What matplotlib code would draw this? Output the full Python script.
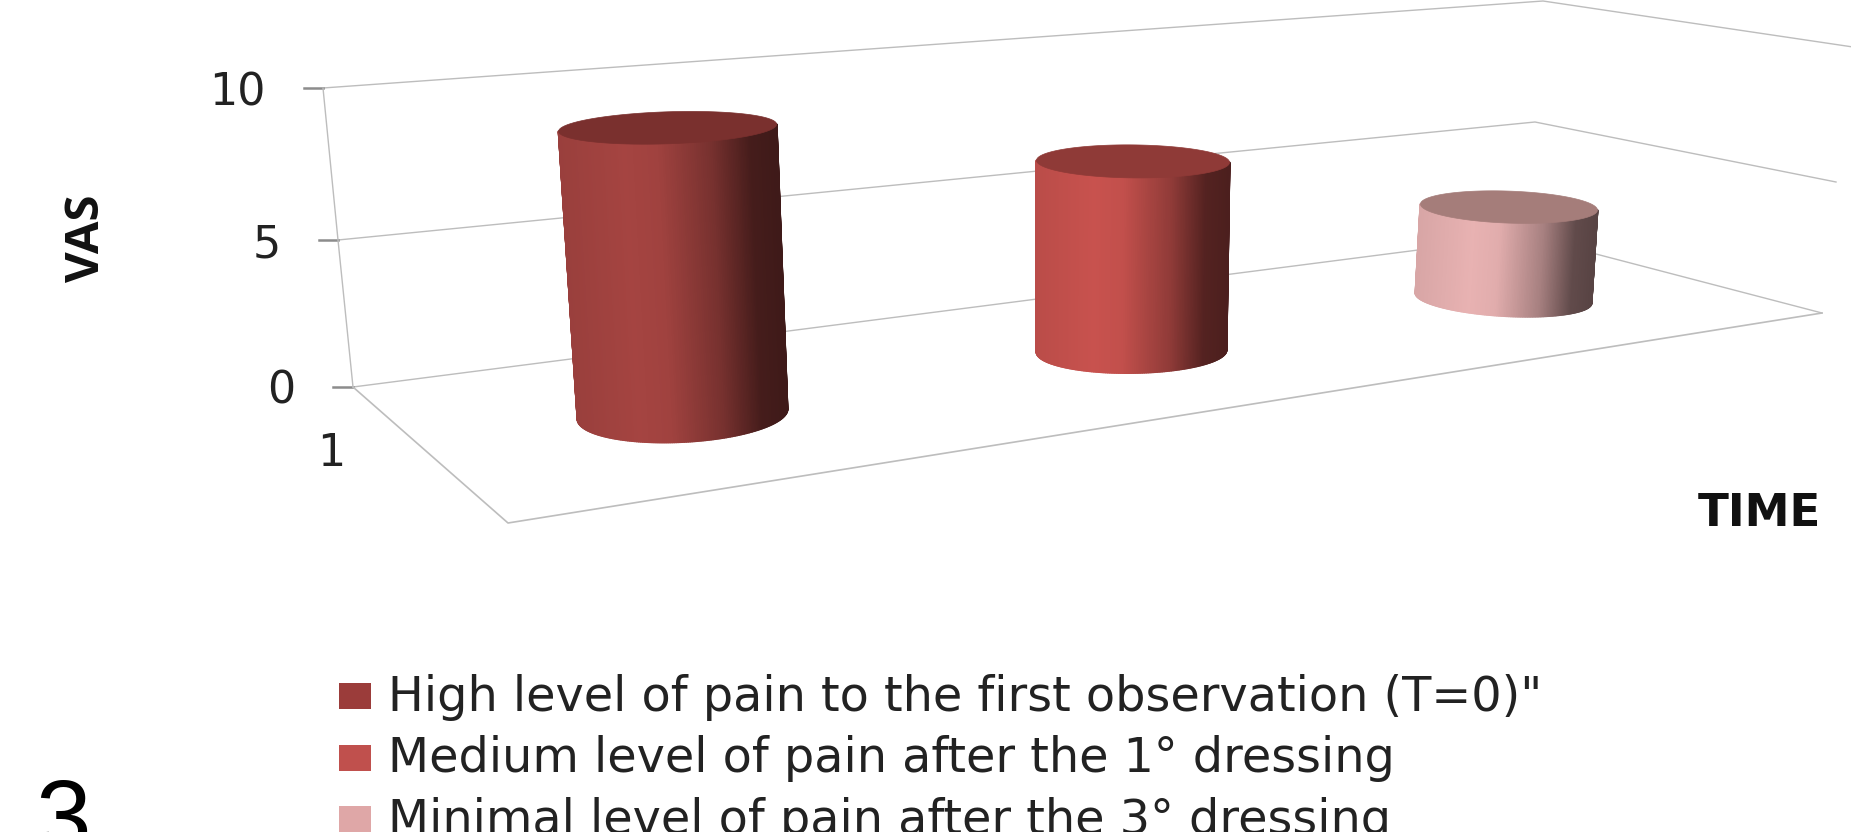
import numpy as np
import matplotlib
matplotlib.use("Agg")
import matplotlib.pyplot as plt
from matplotlib.collections import PolyCollection
from matplotlib.patches import Rectangle

# Chart data
series_names = [
    'High level of pain to the first observation (T=0)"',
    "Medium level of pain after the 1° dressing",
    "Minimal level of pain after the 3° dressing",
]
vas_values = [9.0, 6.0, 3.0]
vas_ticks = [0, 5, 10]
depth_label = "1"
series_colors = ["#a54441", "#c8524e", "#e8b2b2"]
legend_colors = ["#9b3c3a", "#c0504d", "#dfa7a7"]
top_colors = ["#7a302e", "#8f3a37", "#a57d7a"]

W, H = 1851, 832
fig = plt.figure(figsize=(W / 100, H / 100), dpi=100)
ax = fig.add_axes([0, 0, 1, 1])
ax.set_xlim(0, W)
ax.set_ylim(H, 0)
ax.axis("off")

GRID = "#bdbdbd"
TEXT = "#222222"

# Perspective frame: wall corners at each tick level (left, back, far right)
wall_left = {0: (353, 387), 5: (338, 240), 10: (323, 88)}
wall_back = {0: (1527, 236), 5: (1535, 122), 10: (1543, 1)}
wall_right = {0: (1822, 313), 5: (1836, 182), 10: (1853, 47)}
floor_front = (508, 523)
tick_out = {0: 20, 5: 19, 10: 19}

for v in vas_ticks:
    xs = [wall_left[v][0], wall_back[v][0], wall_right[v][0]]
    ys = [wall_left[v][1], wall_back[v][1], wall_right[v][1]]
    ax.plot(xs, ys, color=GRID, lw=1.0, zorder=1)
    ax.plot([wall_left[v][0] - tick_out[v], wall_left[v][0]],
            [wall_left[v][1]] * 2, color="#8c8c8c", lw=1.8, zorder=1)
    ax.text(wall_left[v][0] - tick_out[v] - 38, wall_left[v][1] + 17, str(v),
            ha="right", va="baseline", fontsize=32, color=TEXT)

ax.plot([wall_left[10][0], wall_left[5][0], wall_left[0][0]],
        [wall_left[10][1], wall_left[5][1], wall_left[0][1]],
        color=GRID, lw=1.0, zorder=1)
ax.plot([wall_left[0][0], floor_front[0], wall_right[0][0]],
        [wall_left[0][1], floor_front[1], wall_right[0][1]],
        color=GRID, lw=1.2, zorder=1)

# Cylinder layout on the floor: base centre, half width, ellipse depth and tilt
base_xy = [(682.5, 414), (1131.5, 351), (1503.5, 298)]
base_ab = [(105, 28, -5), (95, 22, -1), (88, 18, 5)]
top_ab = [(109, 16, -3.5), (96.5, 16.5, 1), (88.5, 16, 3)]
lean = [-0.052, 0.008, 0.06]
px_per_vas = [31.8, 31.6, 30.3]

shade_pos = [0.0, 0.30, 0.45, 0.70, 0.88, 1.0]
shade_mul = [0.93, 1.0, 0.97, 0.72, 0.42, 0.38]


def rim(cx, cy, a, b, tilt, t):
    return np.column_stack([cx + a * np.cos(t),
                            cy + tilt * np.cos(t) + b * np.sin(t)])


for value, (cx, cy), (a0, b0, t0), (a1, b1, t1), dx, ppv, col, tcol in zip(
        vas_values, base_xy, base_ab, top_ab, lean, px_per_vas,
        series_colors, top_colors):
    rise = value * ppv
    top_x, top_y = cx + dx * rise, cy - rise
    theta = np.linspace(np.pi, 0, 161)
    low = rim(cx, cy, a0, b0, t0, theta)
    high = rim(top_x, top_y, a1, b1, t1, theta)
    quads = [np.vstack([low[i], low[i + 1], high[i + 1], high[i]])
             for i in range(len(theta) - 1)]
    rgb = np.array(matplotlib.colors.to_rgb(col))
    frac = 0.5 + 0.5 * np.cos(theta[:-1])
    mult = np.interp(frac, shade_pos, shade_mul)
    ax.add_collection(PolyCollection(quads, facecolors=[rgb * m for m in mult],
                                     edgecolors="face", linewidths=1.4, zorder=3))
    cap = rim(top_x, top_y, a1, b1, t1, np.linspace(0, 2 * np.pi, 181))
    ax.fill(cap[:, 0], cap[:, 1], color=tcol, lw=0.5, zorder=4)

# Axis captions
ax.text(86, 238, "VAS", rotation=90, ha="center", va="center",
        fontsize=34, fontweight="bold", color="#111111", family="Open Sans")
ax.text(1759, 526, "TIME", ha="center", va="baseline",
        fontsize=32.5, fontweight="bold", color="#111111", family="DejaVu Sans")
ax.text(331, 466, depth_label, ha="center", va="baseline", fontsize=32, color=TEXT)

# Legend
legend_base = [711, 772.5, 834]
for name, col, y in zip(series_names, legend_colors, legend_base):
    ax.add_patch(Rectangle((339, y - 28), 32, 26, facecolor=col, edgecolor="none", zorder=5))
    ax.text(388, y, name, ha="left", va="baseline", fontsize=34.4, color=TEXT, clip_on=True)

# Panel number
ax.text(35, 850, "3", ha="left", va="baseline", fontsize=72, color="black",
        family="Liberation Sans", clip_on=True)

fig.savefig("out.png", dpi=100, facecolor="white")
